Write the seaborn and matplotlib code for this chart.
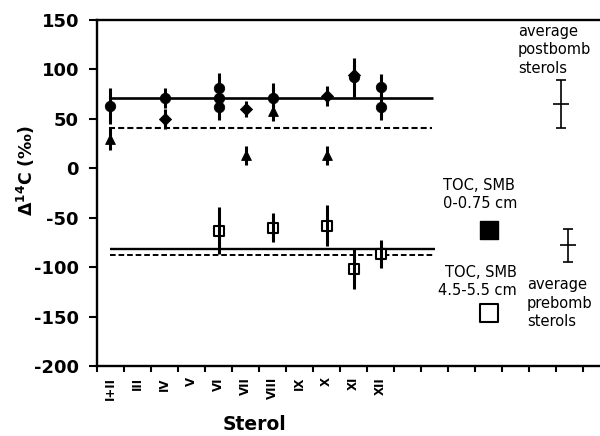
import numpy as np
import pandas as pd
import matplotlib
matplotlib.use("Agg")
import matplotlib.pyplot as plt
import seaborn as sns

# ---------------- data ----------------
categories = ["I+II", "III", "IV", "V", "VI", "VII", "VIII", "IX", "X", "XI", "XII"]

post_sterol = ["I+II", "I+II", "IV", "IV", "VI", "VI", "VI", "VII", "VII",
               "VIII", "VIII", "X", "X", "XI", "XI", "XII", "XII"]
post_d14c = [63, 30, 71, 50, 81, 71, 62, 60, 13, 71, 58, 73, 13, 92, 94, 82, 62]
post_err = [18, 12, 10, 10, 15, 12, 13, 8, 10, 15, 10, 10, 10, 20, 10, 13, 13]
post_shape = ["circle", "triangle", "circle", "diamond", "circle", "circle", "circle",
              "diamond", "triangle", "circle", "triangle", "diamond", "triangle",
              "circle", "diamond", "circle", "circle"]

pre_sterol = ["VI", "VIII", "X", "XI", "XII"]
pre_d14c = [-63, -60, -58, -102, -87]
pre_err = [24, 15, 21, 20, 14]

post_mean_solid = 71
post_mean_dashed = 41
pre_mean_solid = -82
pre_mean_dashed = -87.5

avg_labels = ["average\npostbomb\nsterols", "average\nprebomb\nsterols"]
avg_d14c = [65, -78]
avg_err = [24, 17]

toc_labels = ["TOC, SMB\n0-0.75 cm", "TOC, SMB\n4.5-5.5 cm"]
toc_d14c = [-62, -146]

yticks = [-200, -150, -100, -50, 0, 50, 100, 150]

# ---------------- frames ----------------
cat_pos = {c: i for i, c in enumerate(categories)}
post_df = pd.DataFrame({"sterol": post_sterol, "d14c": post_d14c,
                        "err": post_err, "shape": post_shape})
post_df["pos"] = post_df["sterol"].map(cat_pos)
pre_df = pd.DataFrame({"sterol": pre_sterol, "d14c": pre_d14c, "err": pre_err})
pre_df["pos"] = pre_df["sterol"].map(cat_pos)

# ---------------- style ----------------
sns.set_theme(style="white")
plt.rcParams["font.family"] = ["DejaVu Sans"]
plt.rcParams["mathtext.fontset"] = "dejavusans"
plt.rcParams["text.color"] = "black"
plt.rcParams["axes.labelcolor"] = "black"
plt.rcParams["xtick.color"] = "black"
plt.rcParams["ytick.color"] = "black"

fig = plt.figure(figsize=(6, 4.36), dpi=100)
ax = fig.add_axes([97 / 600, 70 / 436, 503 / 600, 346 / 436])

# error bars (postbomb)
ax.errorbar(post_df["pos"], post_df["d14c"], yerr=post_df["err"], fmt="none",
            ecolor="black", elinewidth=2.2, capsize=0, zorder=2)

shape_style = {"circle": ("o", 56), "triangle": ("^", 50), "diamond": ("D", 38)}
for shape, (mk, sz) in shape_style.items():
    sub = post_df[post_df["shape"] == shape]
    sns.scatterplot(data=sub, x="pos", y="d14c", marker=mk, s=sz, color="black",
                    edgecolor="black", linewidth=0.6, ax=ax, zorder=3, legend=False)

# prebomb open squares
sns.scatterplot(data=pre_df, x="pos", y="d14c", marker="s", s=49, color="white",
                edgecolor="black", linewidth=1.5, ax=ax, zorder=2, legend=False)
ax.errorbar(pre_df["pos"], pre_df["d14c"], yerr=pre_df["err"], fmt="none",
            ecolor="black", elinewidth=2.2, capsize=0, zorder=3)

# mean lines
ax.hlines(post_mean_solid, 0, 11.94, colors="black", linewidth=1.9, zorder=1)
ax.hlines(post_mean_dashed, -0.07, 11.9, colors="black", linewidth=1.5,
          linestyles=(0, (2.9, 1.5)), zorder=1)
ax.hlines(pre_mean_solid, 0, 12.0, colors="black", linewidth=1.7, zorder=1)
ax.hlines(pre_mean_dashed, 0, 12.0, colors="black", linewidth=1.4,
          linestyles=(0, (2.9, 1.5)), zorder=1)

# average error bars
avg_x = [16.69, 16.94]
ax.errorbar(avg_x, avg_d14c, yerr=avg_err, fmt="_", markersize=12, mew=1.2,
            capsize=3.5, capthick=1.2, elinewidth=1.2, color="black", zorder=3)

# TOC squares
toc_x = [14.0, 14.0]
sns.scatterplot(x=toc_x[:1], y=toc_d14c[:1], marker="s", s=165, color="black",
                edgecolor="black", linewidth=1.0, ax=ax, zorder=3, legend=False)
sns.scatterplot(x=toc_x[1:], y=toc_d14c[1:], marker="s", s=160, color="white",
                edgecolor="black", linewidth=1.5, ax=ax, zorder=3, legend=False)

# annotations
ax.text(12.31, -27, toc_labels[0], ha="left", va="center", fontsize=10.5,
        linespacing=1.25, color="black")
ax.text(15.06, -115, toc_labels[1], ha="right", va="center", fontsize=10.5,
        linespacing=1.25, multialignment="right", color="black")
ax.text(15.09, 120, avg_labels[0], ha="left", va="center", fontsize=10.5,
        linespacing=1.3, color="black")
ax.text(15.43, -136.5, avg_labels[1], ha="left", va="center", fontsize=10.5,
        linespacing=1.3, color="black")

# axes
ax.set_xlim(-0.5, -0.5 + 503 / 27)
ax.set_ylim(-200, 150)
ax.set_yticks(yticks)
ax.set_yticklabels([str(v) for v in yticks], fontsize=13, fontweight="bold",
                   color="black")
ax.set_xticks(range(len(categories)))
ax.set_xticklabels(categories, rotation=90, fontsize=8.5, fontweight="bold",
                   color="black")
ax.set_xticks(np.arange(-0.5, 18, 1), minor=True)
ax.tick_params(axis="x", which="major", length=0, pad=8)
ax.tick_params(axis="x", which="minor", length=4, width=1.5, direction="out",
               bottom=True, color="black")
ax.tick_params(axis="y", which="major", length=6, width=1.5, pad=7,
               left=True, color="black", labelcolor="black")

for side in ["left", "bottom", "top"]:
    ax.spines[side].set_linewidth(1.7)
    ax.spines[side].set_color("black")
ax.spines["right"].set_visible(False)

ax.set_ylabel("Δ$^{\\mathbf{14}}$C (‰)", fontsize=12.5, fontweight="bold",
              color="black")
ax.yaxis.set_label_coords(-0.119, 0.566)
ax.set_xlabel("Sterol", fontsize=13.5, fontweight="bold", color="black")
ax.xaxis.set_label_coords(0.314, -0.142)

fig.savefig("out.png", dpi=100, facecolor="white")
